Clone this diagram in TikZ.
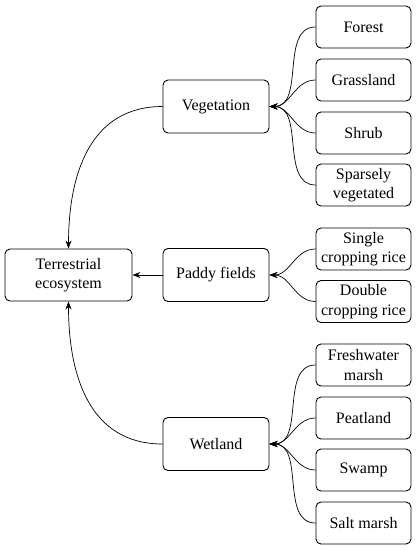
\documentclass[tikz,border=0pt]{standalone}
\usepackage{fontspec}
\setmainfont{Liberation Serif}
\usetikzlibrary{arrows.meta}
\begin{document}
\begin{tikzpicture}[x=1pt,y=-1pt,font=\fontsize{16}{19.5}\selectfont]
\tikzset{
  box/.style={draw,line width=0.9pt,rounded corners=5pt,align=center,
    inner sep=2pt,minimum width=106pt,minimum height=53pt},
  leaf/.style={box,minimum width=95pt,minimum height=42pt},
  arr/.style={line width=0.7pt,-{Stealth[length=8pt,width=6pt]}}
}
\useasboundingbox (0,0) rectangle (419,550);
% main boxes
\node[box,minimum width=127pt,minimum height=52pt] (terr) at (68.5,275) {Terrestrial\\ecosystem};
\node[box] (veg) at (216,106.5) {Vegetation};
\node[box] (paddy) at (216,275) {Paddy fields};
\node[box] (wet) at (216,444) {Wetland};
% leaves
\foreach \name/\y/\txt in {forest/27/Forest, grass/80/Grassland, shrub/133/Shrub,
  sparse/185/{Sparsely\\vegetated}, single/249/{Single\\cropping rice},
  double/301.5/{Double\\cropping rice}, fresh/365/{Freshwater\\marsh},
  peat/418/Peatland, swamp/470/Swamp, salt/523/{Salt marsh}} {
  \node[leaf] (\name) at (363.5,\y) {\txt};
}
\foreach \c in {forest,grass,shrub,sparse}
  \draw[arr] (\c.west) to[out=180,in=0] (veg.east);
\foreach \c in {single,double}
  \draw[arr] (\c.west) to[out=180,in=0] (paddy.east);
\foreach \c in {fresh,peat,swamp,salt}
  \draw[arr] (\c.west) to[out=180,in=0] (wet.east);
\draw[arr] (veg.west) to[out=180,in=90,looseness=1.1] (terr.north);
\draw[arr] (wet.west) to[out=180,in=-90,looseness=1.1] (terr.south);
\draw[arr] (paddy.west) -- (terr.east);
\end{tikzpicture}
\end{document}
